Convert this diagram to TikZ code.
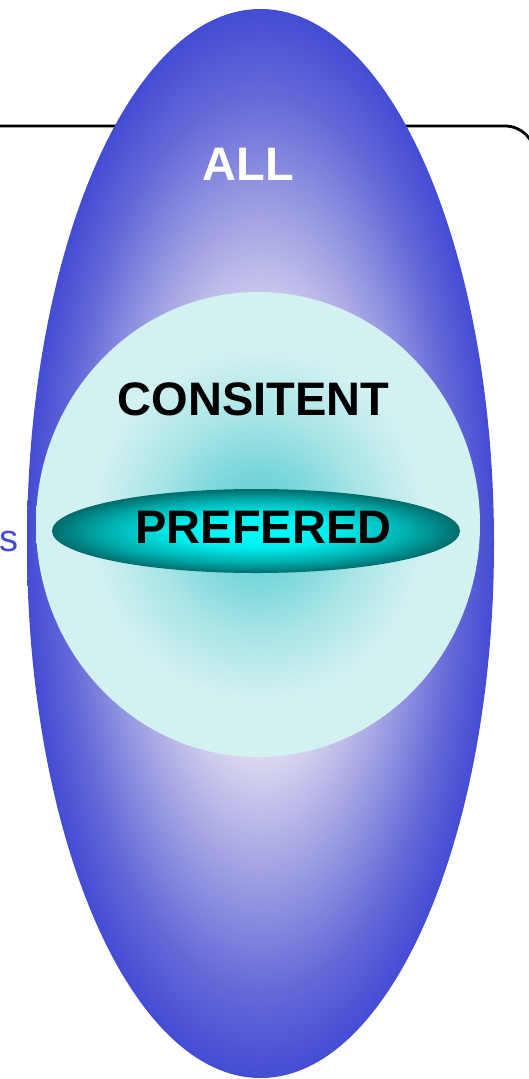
\documentclass[tikz,border=0pt]{standalone}
\usepackage{fontspec}
\setmainfont{Liberation Sans}
\definecolor{allblue}{RGB}{68,76,212}
\definecolor{allmid}{RGB}{165,165,228}
\definecolor{allouter}{RGB}{100,105,216}
\definecolor{alllight}{RGB}{218,215,240}
\definecolor{allcenter}{RGB}{236,234,250}
\definecolor{conedge}{RGB}{212,241,242}
\definecolor{conmid}{RGB}{170,229,231}
\definecolor{coninner}{RGB}{122,215,219}
\definecolor{concenter}{RGB}{92,205,210}
\definecolor{prefedge}{RGB}{0,108,108}
\definecolor{prefmid}{RGB}{0,170,170}
\definecolor{prefcenter}{RGB}{0,255,255}
\pgfdeclareradialshading{allshade}{\pgfpoint{0bp}{0bp}}{color(0bp)=(allcenter);color(10bp)=(alllight);color(15bp)=(allmid);color(21bp)=(allouter);color(25bp)=(allblue);color(50bp)=(allblue)}
\pgfdeclareradialshading{conshade}{\pgfpoint{0bp}{0bp}}{color(0bp)=(concenter);color(6bp)=(coninner);color(12bp)=(conmid);color(19bp)=(conedge);color(50bp)=(conedge)}
\pgfdeclareradialshading{prefshade}{\pgfpoint{0bp}{0bp}}{color(0bp)=(prefcenter);color(10bp)=(prefcenter!80!prefmid);color(19bp)=(prefmid);color(25bp)=(prefedge);color(50bp)=(prefedge)}
\tikzset{
  lbl/.style={font=\fontsize{47}{47}\selectfont\bfseries, inner sep=0pt, anchor=base},
}
\begin{document}
\begin{tikzpicture}[x=1pt,y=-1pt]
\useasboundingbox (0,0) rectangle (529,1079);
\clip (0,0) rectangle (529,1079);
% background frame line
\coordinate (f0) at (-5,126);
\coordinate (f1) at (535,126);
\coordinate (f2) at (535,700);
\draw[line width=2.8pt, rounded corners=30pt] (f0) -- (f1) -- (f2);
% ALL ellipse
\shade[shading=allshade] (260.5,543.5) ellipse[x radius=233.5, y radius=534.5];
% CONSITENT circle
\shade[shading=conshade] (258,524.5) ellipse[x radius=222, y radius=232.5];
% PREFERED ellipse
\shade[shading=prefshade] (256,531) ellipse[x radius=204, y radius=42];
% labels
\node[lbl, text=white] (allt) at (248.5,180) {ALL};
\node[lbl] (cont) at (253.5,415) {CONSITENT};
\node[lbl] (preft) at (263.5,543) {PREFERED};
\node[font=\fontsize{38}{38}\selectfont, text=allblue, inner sep=0pt, anchor=base east] (s) at (19,551) {s};
\end{tikzpicture}
\end{document}
